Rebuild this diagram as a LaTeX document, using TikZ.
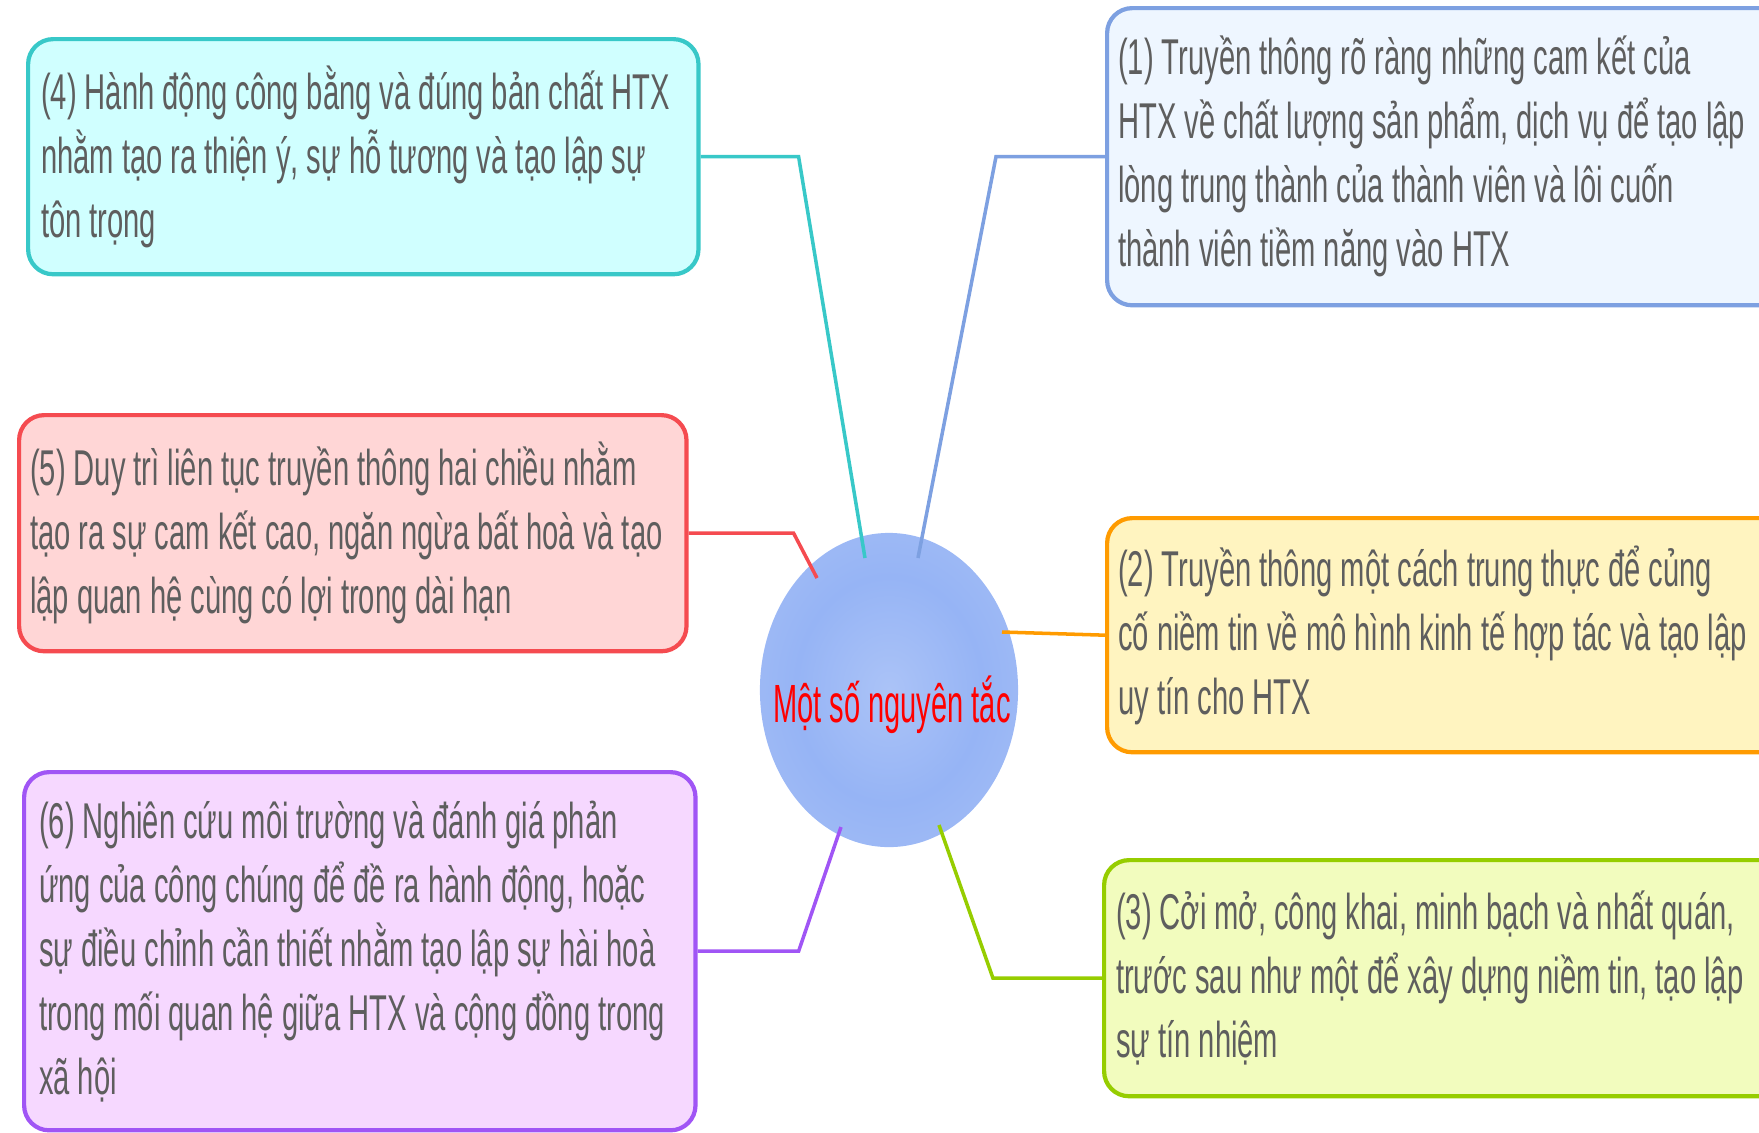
\documentclass[tikz,border=0pt]{standalone}
\usepackage[HTML]{xcolor}
\usepackage{fontspec}
\setmainfont{Liberation Sans}[FakeStretch=0.58]
\newfontfamily\hubfont{Liberation Sans}[FakeStretch=0.54]
\usepackage{tikz}
\usetikzlibrary{shapes.geometric}

\definecolor{leafgray}{HTML}{5E5E5E}
\definecolor{tealline}{HTML}{38C8C8}
\definecolor{tealfill}{HTML}{D0FFFF}
\definecolor{blueline}{HTML}{7DA0E1}
\definecolor{bluefill}{HTML}{EEF6FF}
\definecolor{redline}{HTML}{F54B50}
\definecolor{redfill}{HTML}{FFD6D6}
\definecolor{orangeline}{HTML}{FF9B00}
\definecolor{orangefill}{HTML}{FFF4C0}
\definecolor{greenline}{HTML}{96CD00}
\definecolor{greenfill}{HTML}{F2FCBE}
\definecolor{purpleline}{HTML}{A055F5}
\definecolor{purplefill}{HTML}{F6D8FF}
\definecolor{hubblue}{HTML}{96B4F5}
\definecolor{hubedge}{HTML}{CCDAFA}

\pgfdeclareradialshading{hubwash}{\pgfpoint{0bp}{0bp}}{%
  color(0bp)=(hubblue!80!white); color(18bp)=(hubblue);
  color(32bp)=(hubblue!88!white); color(42bp)=(hubblue);
  color(47bp)=(hubedge); color(50bp)=(hubedge!60!white)}

\tikzset{
  leaf/.style={draw, line width=1.2pt, rounded corners=0.25cm, anchor=north west,
    align=flush left, inner ysep=0pt, text=leafgray, font=\fontsize{14.3}{18.2}\selectfont},
  hub/.style={ellipse, minimum width=2.58cm, minimum height=3.14cm, inner sep=0pt,
    shade, shading=hubwash},
  link/.style={line width=1pt},
}

\begin{document}
\begin{tikzpicture}[x=0.01cm, y=-0.01cm]
\useasboundingbox (0,0) rectangle (1759,1132);

% centre blot
\node[hub] (hub) at (889,690) {};
\node[text=red, font=\hubfont\fontsize{15.3}{18}\selectfont] (hubtext) at (892,705) {Một số nguyên tắc};

% left column
\node[leaf, draw=tealline, fill=tealfill, text width=6.44cm, inner xsep=0.13cm,
  minimum height=2.35cm] (n4) at (26,37)
  {(4) Hành động công bằng và đúng bản chất HTX\\
   nhằm tạo ra thiện ý, sự hỗ tương và tạo lập sự\\
   tôn trọng};
\node[leaf, draw=redline, fill=redfill, text width=6.45cm, inner xsep=0.11cm,
  minimum height=2.36cm] (n5) at (17,413)
  {(5) Duy trì liên tục truyền thông hai chiều nhằm\\
   tạo ra sự cam kết cao, ngăn ngừa bất hoà và tạo\\
   lập quan hệ cùng có lợi trong dài hạn};
\node[leaf, draw=purpleline, fill=purplefill, text width=6.41cm, inner xsep=0.15cm,
  minimum height=3.58cm] (n6) at (22,770)
  {(6) Nghiên cứu môi trường và đánh giá phản\\
   ứng của công chúng để đề ra hành động, hoặc\\
   sự điều chỉnh cần thiết nhằm tạo lập sự hài hoà\\
   trong mối quan hệ giữa HTX và cộng đồng trong\\
   xã hội};

% right column
\node[leaf, draw=blueline, fill=bluefill, text width=6.78cm, inner xsep=0.11cm,
  minimum height=2.97cm] (n1) at (1105,6)
  {(1) Truyền thông rõ ràng những cam kết của\\
   HTX về chất lượng sản phẩm, dịch vụ để tạo lập\\
   lòng trung thành của thành viên và lôi cuốn\\
   thành viên tiềm năng vào HTX};
\node[leaf, draw=orangeline, fill=orangefill, text width=6.78cm, inner xsep=0.11cm,
  minimum height=2.34cm] (n2) at (1105,516)
  {(2) Truyền thông một cách trung thực để củng\\
   cố niềm tin về mô hình kinh tế hợp tác và tạo lập\\
   uy tín cho HTX};
\node[leaf, draw=greenline, fill=greenfill, text width=6.80cm, inner xsep=0.12cm,
  minimum height=2.36cm] (n3) at (1102,858)
  {(3) Cởi mở, công khai, minh bạch và nhất quán,\\
   trước sau như một để xây dựng niềm tin, tạo lập\\
   sự tín nhiệm};

% ends on the blot
\coordinate (e1) at (918,558);
\coordinate (e2) at (1002,632);
\coordinate (e3) at (939,825);
\coordinate (e4) at (865,558);
\coordinate (e5) at (817,578);
\coordinate (e6) at (841,827);

\draw[link, tealline] (n4.east) -- ++(98,0) -- (e4);
\draw[link, redline] (n5.east) -- ++(105,0) -- (e5);
\draw[link, purpleline] (n6.east) -- ++(101,0) -- (e6);
\draw[link, blueline] (n1.west) -- ++(-109,0) -- (e1);
\draw[link, orangeline] (n2.west) -- (e2);
\draw[link, greenline] (n3.west) -- ++(-109,0) -- (e3);
\end{tikzpicture}
\end{document}
